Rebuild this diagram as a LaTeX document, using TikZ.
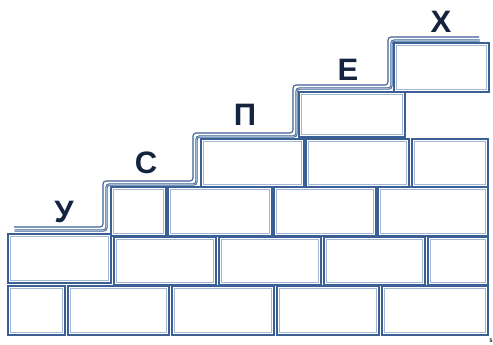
\documentclass[tikz,border=0pt]{standalone}
\usepackage{fontspec}
\setmainfont{Liberation Sans}
\definecolor{bdark}{HTML}{3A5F94}
\definecolor{blight}{HTML}{A3B6D2}
\definecolor{lettc}{HTML}{14243F}
\begin{document}
\begin{tikzpicture}[x=1pt,y=-1pt,
  brickout/.style={draw=bdark,line width=1.8pt},
  brickin/.style={draw=blight,line width=1.1pt},
  stairthin/.style={draw=bdark,line width=1.1pt,rounded corners=3pt},
  stairthick/.style={draw=bdark,line width=2.4pt,rounded corners=3pt},
  stairlight/.style={draw=blight,line width=0.8pt,rounded corners=3pt},
  lett/.style={font=\fontsize{31}{31}\selectfont\bfseries,text=lettc,inner sep=0pt}]
\useasboundingbox (0,0) rectangle (493,345);
\newcommand{\brick}[4]{%
  \draw[brickout] (#1,#2) rectangle (#3,#4);
  \draw[brickin] (#1+2.4,#2+2.4) rectangle (#3-2.4,#4-2.4);}
% row 1
\brick{8}{286}{65}{335}
\brick{68}{286}{169}{335}
\brick{172}{286}{274}{335}
\brick{277}{286}{379}{335}
\brick{382}{286}{488}{335}
% row 2
\brick{8}{234}{111}{283}
\brick{114}{237}{216}{285}
\brick{219}{237}{321}{285}
\brick{324}{237}{425}{285}
\brick{428}{237}{488}{285}
% row 3
\brick{111}{187}{166}{236}
\brick{168}{187}{272}{236}
\brick{274}{187}{376}{236}
\brick{378}{187}{488}{236}
% row 4
\brick{201}{139}{304}{187}
\brick{306}{139}{409}{187}
\brick{412}{139}{488}{187}
% row 5
\brick{299}{92}{405}{137}
% row 6
\brick{394}{43}{489}{92}
% stairs
\draw[stairthin] (14,227) -- (103,227) -- (103,181) -- (193,181) -- (193,133) -- (293,133) -- (293,85) -- (388,85) -- (388,37) -- (479,37);
\begin{scope}[shift={(3.5,3.5)}]
\draw[stairthick] (11,227) -- (103,227) -- (103,181) -- (193,181) -- (193,133) -- (293,133) -- (293,85) -- (388,85) -- (388,37) -- (476,37);
\draw[stairlight] (11,227) -- (103,227) -- (103,181) -- (193,181) -- (193,133) -- (293,133) -- (293,85) -- (388,85) -- (388,37) -- (476,37);
\end{scope}
% letters
\node[lett] (u) at (64,212) {У};
\node[lett] (s) at (146,163) {С};
\node[lett] (p) at (245,115) {П};
\node[lett] (e) at (348,70) {Е};
\node[lett] (h) at (441,22) {Х};
\node[font=\fontsize{5}{5}\selectfont\bfseries,inner sep=0pt] (pg) at (491,341) {5};
\end{tikzpicture}
\end{document}
